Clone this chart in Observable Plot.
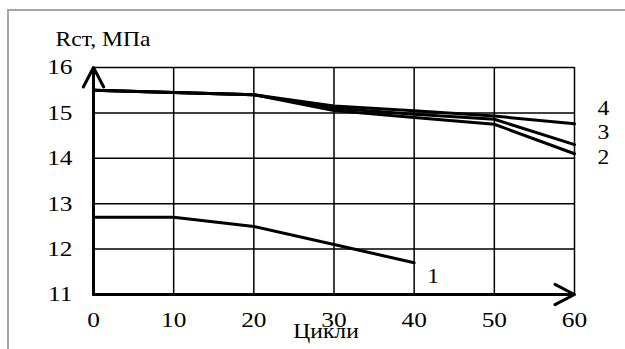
<!DOCTYPE html>
<html>
<head>
<meta charset="utf-8">
<script src="https://cdn.jsdelivr.net/npm/d3@7"></script>
<script src="https://cdn.jsdelivr.net/npm/@observablehq/plot@0.6"></script>
<style>
  html, body { margin: 0; padding: 0; background: #fff; }
  #wrap { position: relative; width: 625px; height: 349px; overflow: hidden; }
  #frame { position: absolute; left: 7px; top: 9px; width: 640px; height: 360px;
           border-top: 2px solid #a6a6a6; border-left: 2px solid #a6a6a6; }
  #chart { position: absolute; left: 0; top: 0; }
  #chart svg, #chart svg text { font-family: "Times New Roman", "Liberation Serif", "DejaVu Serif", serif !important; }
</style>
</head>
<body>
<div id="wrap"><div id="frame"></div><div id="chart"></div></div>
<script>
// Data
const cycles = [0, 10, 20, 30, 40, 50, 60];
const series1 = [12.7, 12.7, 12.5, 12.1, 11.7];          // curve 1 (0..40)
const series2 = [15.5, 15.45, 15.4, 15.05, 14.9, 14.75, 14.1];
const series3 = [15.5, 15.45, 15.4, 15.1, 14.97, 14.86, 14.3];
const series4 = [15.5, 15.45, 15.4, 15.15, 15.05, 14.93, 14.76];
const curveNames = ["1", "2", "3", "4"];
const xTicks = [0, 10, 20, 30, 40, 50, 60];
const yTicks = [11, 12, 13, 14, 15, 16];
const yTitle = "Rст, МПа";
const xTitle = "Цикли";

const toRows = (vals, name) => vals.map((v, i) => ({x: cycles[i], y: v, name}));
const rows1 = toRows(series1, curveNames[0]);
const rows2 = toRows(series2, curveNames[1]);
const rows3 = toRows(series3, curveNames[2]);
const rows4 = toRows(series4, curveNames[3]);
const last = (r) => [r[r.length - 1]];

const font = "Times New Roman, Liberation Serif, DejaVu Serif, serif";
const xMin = xTicks[0], xMax = xTicks[xTicks.length - 1];
const yMin = yTicks[0], yMax = yTicks[yTicks.length - 1];

const plot = Plot.plot({
  width: 625,
  height: 349,
  marginLeft: 93,
  marginRight: 51,
  marginTop: 67,
  marginBottom: 55,
  style: {color: "#000", background: "transparent", overflow: "visible"},
  x: {domain: [xMin, xMax]},
  y: {domain: [yMin, yMax]},
  marks: [
    Plot.gridX(xTicks, {stroke: "#000", strokeOpacity: 1, strokeWidth: 1.5}),
    Plot.gridY(yTicks, {stroke: "#000", strokeOpacity: 1, strokeWidth: 1.5}),
    Plot.axisX(xTicks, {tickSize: 0, tickPadding: 17, fontSize: 21.5, fontFamily: font, tickFormat: d => String(d)}),
    Plot.axisY(yTicks, {tickSize: 0, tickPadding: 21, fontSize: 21.5, fontFamily: font, tickFormat: d => String(d)}),
    Plot.arrow([{x1: xMin, y1: yMin, x2: xMin, y2: yMax}], {x1: "x1", y1: "y1", x2: "x2", y2: "y2", stroke: "#000", strokeWidth: 3, headLength: 11, headAngle: 55}),
    Plot.arrow([{x1: xMin, y1: yMin, x2: xMax, y2: yMin}], {x1: "x1", y1: "y1", x2: "x2", y2: "y2", stroke: "#000", strokeWidth: 3, headLength: 11, headAngle: 55}),
    Plot.line(rows1, {x: "x", y: "y", stroke: "#000", strokeWidth: 3}),
    Plot.line(rows2, {x: "x", y: "y", stroke: "#000", strokeWidth: 3}),
    Plot.line(rows3, {x: "x", y: "y", stroke: "#000", strokeWidth: 3}),
    Plot.line(rows4, {x: "x", y: "y", stroke: "#000", strokeWidth: 3}),
    Plot.text(last(rows1), {x: "x", y: "y", text: "name", dx: 19, dy: 14, fontSize: 20, fontFamily: font, fill: "#000"}),
    Plot.text(last(rows2), {x: "x", y: "y", text: "name", dx: 29, dy: 4, fontSize: 20, fontFamily: font, fill: "#000"}),
    Plot.text(last(rows3), {x: "x", y: "y", text: "name", dx: 29, dy: -12.5, fontSize: 20, fontFamily: font, fill: "#000"}),
    Plot.text(last(rows4), {x: "x", y: "y", text: "name", dx: 29, dy: -15, fontSize: 20, fontFamily: font, fill: "#000"}),
    Plot.text([yTitle], {frameAnchor: "top-left", text: d => d, textAnchor: "start", dx: -38, dy: -36, fontSize: 20, fontFamily: font, fill: "#000"}),
    Plot.text([xTitle], {frameAnchor: "bottom", text: d => d, dx: -8, dy: 43, fontSize: 20, fontFamily: font, fill: "#000"})
  ]
});

// The reference's lettering is slightly wider than the font's natural width:
// stretch each text horizontally about its own anchor point (position comes
// from Plot's translate transform; the em baseline offset in "y" is kept).
const stretch = 1.18;
d3.select(plot).selectAll("text").each(function () {
  const t = this.getAttribute("transform") || "";
  this.setAttribute("transform", `${t} scale(${stretch},1)`.trim());
});

document.getElementById("chart").appendChild(plot);
</script>
</body>
</html>
